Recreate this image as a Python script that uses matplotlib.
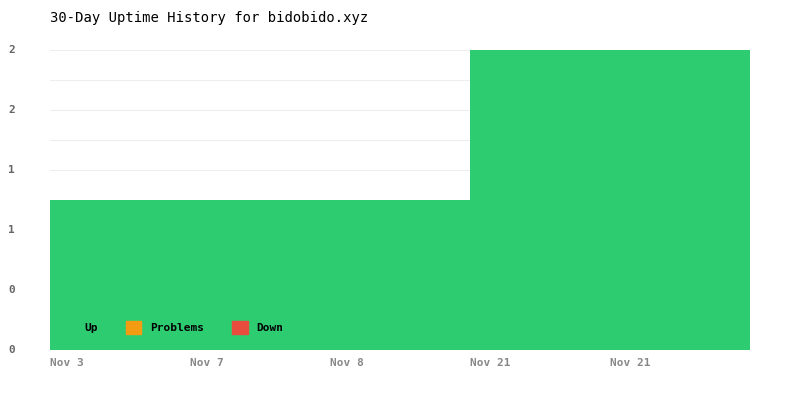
import matplotlib
matplotlib.use("Agg")
import matplotlib.pyplot as plt
from matplotlib.patches import Patch

dates = ["Nov 3", "Nov 7", "Nov 8", "Nov 21", "Nov 21"]
up = [1, 1, 1, 2, 2]
problems = [0, 0, 0, 0, 0]
down = [0, 0, 0, 0, 0]
ytick_vals = [0, 0.4, 0.8, 1.2, 1.6, 2.0]
ytick_labels = ["0", "0", "1", "1", "2", "2"]

plt.rcParams['font.family'] = ['DejaVu Sans Mono']
fig = plt.figure(figsize=(8, 4), dpi=100)
ax = fig.add_axes([50/800, 50/400, 700/800, 300/400])
x = range(len(dates))
ax.bar(x, up, width=1.0, align='edge', color='#2ecc71', zorder=2)
ax.bar(x, problems, bottom=up, width=1.0, align='edge', color='#f39c12', zorder=2)
ax.bar(x, down, bottom=up, width=1.0, align='edge', color='#e74c3c', zorder=2)
ax.set_xlim(0, 5)
ax.set_ylim(0, 2)
ax.set_yticks([i * 0.2 for i in range(11)], minor=False)
ax.yaxis.grid(True, color='#eeeeee', linewidth=0.8, zorder=0)
ax.set_yticklabels([""] * 11)
ax.tick_params(axis='y', length=0)
for v, l in zip(ytick_vals, ytick_labels):
    ax.text(-0.3, v, l, ha='left', va='center', fontsize=8, color='#666666', fontweight='bold',
            transform=ax.transData)
ax.set_xticks(list(x))
ax.set_xticklabels(dates, ha='left', fontsize=8, color='#888888', fontweight='bold')
ax.tick_params(axis='x', length=0, pad=6)
for s in ax.spines.values():
    s.set_visible(False)
fig.text(50/800, 1 - 18/400, "30-Day Uptime History for bidobido.xyz", fontsize=10, va='center', ha='left')
handles = [Patch(color='#2ecc71', label='Up'), Patch(color='#f39c12', label='Problems'),
           Patch(color='#e74c3c', label='Down')]
leg = ax.legend(handles=handles, loc='lower left', ncol=3, frameon=False, fontsize=8,
                bbox_to_anchor=(0.0, 0.02), handlelength=1.4, handleheight=1.4, columnspacing=2.5,
                prop={'weight': 'bold', 'size': 8})
for t in leg.get_texts():
    t.set_zorder(5)
fig.savefig("out.png")
